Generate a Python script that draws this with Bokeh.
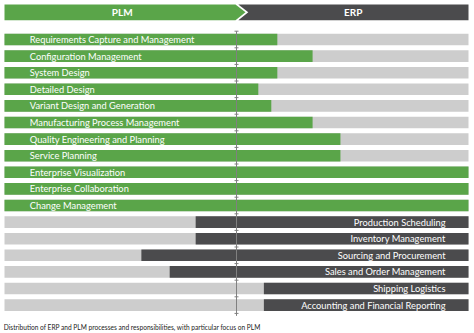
from bokeh.plotting import figure
from bokeh.models import ColumnDataSource, Range1d
from bokeh.core.properties import value
from bokeh.embed import file_html
from bokeh.resources import INLINE

# ---- data ----
plm_tasks = ["Requirements Capture and Management", "Configuration Management",
             "System Design", "Detailed Design", "Variant Design and Generation",
             "Manufacturing Process Management", "Quality Engineering and Planning",
             "Service Planning", "Enterprise Visualization", "Enterprise Collaboration",
             "Change Management"]
plm_share = [58.8, 66.4, 58.8, 54.7, 57.5, 66.4, 72.4, 72.4, 100, 100, 100]

erp_tasks = ["Production Scheduling", "Inventory Management", "Sourcing and Procurement",
             "Sales and Order Management", "Shipping Logistics",
             "Accounting and Financial Reporting"]
erp_share = [58.8, 58.8, 70.5, 64.4, 44.1, 44.1]

header_labels = ["PLM", "ERP"]
caption = "Distribution of ERP and PLM processes and responsibilities, with particular focus on PLM"

GREEN = "#5aa549"
DARK = "#4b4b4d"
GRAY = "#cdcdcd"
FONT = "Lato"

W, H = 474, 333
# x: 0..100 maps to pixels 4..468 ; y: row index, 16.6 px per row, row 0 centre at 39 px
PX = 4.64
x0 = -4 / PX
x1 = 100 + (W - 468) / PX
ROW = 16.6
y_top = -39 / ROW
y_bot = (H - 39) / ROW

p = figure(width=W, height=H, output_backend="svg", toolbar_location=None,
           x_range=Range1d(x0, x1), y_range=Range1d(y_bot, y_top),
           min_border=0, min_border_left=0, min_border_right=0,
           min_border_top=0, min_border_bottom=0)
p.axis.visible = False
p.grid.visible = False
p.outline_line_color = None
p.background_fill_color = "white"
p.border_fill_color = "white"

n_plm = len(plm_tasks)
n_all = n_plm + len(erp_tasks)
rows = list(range(n_all))

# background gray bars
p.hbar(y=rows, left=0, right=100, height=0.7, fill_color=GRAY, line_color=None)

plm_src = ColumnDataSource(dict(y=list(range(n_plm)), right=plm_share, task=plm_tasks))
p.hbar(y="y", left=0, right="right", height=0.7, source=plm_src,
       fill_color=GREEN, line_color=None)

erp_src = ColumnDataSource(dict(y=list(range(n_plm, n_all)),
                                left=[100 - v for v in erp_share], task=erp_tasks))
p.hbar(y="y", left="left", right=100, height=0.7, source=erp_src,
       fill_color=DARK, line_color=None)

# labels
p.text(x=5.45, y="y", text="task", source=plm_src, text_color="white",
       text_font=value(FONT), text_font_size="9.3px", text_baseline="middle",
       text_align="left")
p.text(x=95.05, y="y", text="task", source=erp_src, text_color="white",
       text_font=value(FONT), text_font_size="9.3px", text_baseline="middle",
       text_align="right")

# centre line with ticks
p.segment(x0=[50], y0=[-0.5], x1=[50], y1=[n_all - 0.35], line_color="#808080",
          line_width=1)
p.scatter(x=[50] * (n_all + 1), y=[i - 0.5 for i in range(n_all + 1)],
          marker="dash", size=4, line_color="#808080")

# header: dark band, white-edged chevron, green arrow
hy = -27.2 / ROW  # header centre ~12px
hh = 15.7 / ROW
p.quad(left=[(238 - 4) / PX], right=[100], top=[hy - hh / 2], bottom=[hy + hh / 2],
       fill_color=DARK, line_color=None)
gx_end = (235 - 4) / PX
gx_tip = (245 - 4) / PX
p.patch(x=[0, gx_end + 0.6, gx_tip + 0.6, gx_end + 0.6, 0],
        y=[hy - hh / 2, hy - hh / 2, hy, hy + hh / 2, hy + hh / 2],
        fill_color="white", line_color=None)
p.patch(x=[0, gx_end, gx_tip, gx_end, 0],
        y=[hy - hh / 2, hy - hh / 2, hy, hy + hh / 2, hy + hh / 2],
        fill_color=GREEN, line_color=None)
p.text(x=[(121.7 - 4) / PX, (352.7 - 4) / PX], y=[hy, hy], text=header_labels,
       text_color="white", text_font=value(FONT), text_font_style="bold",
       text_font_size="10px", text_baseline="middle", text_align="center")

# caption
p.text(x=[-0.15], y=[(326.5 - 39) / ROW], text=[caption], text_color="#222222",
       text_font=value(FONT), text_font_size="6.6px", text_baseline="middle",
       text_align="left")

open("out.html", "w").write(file_html(p, INLINE))
